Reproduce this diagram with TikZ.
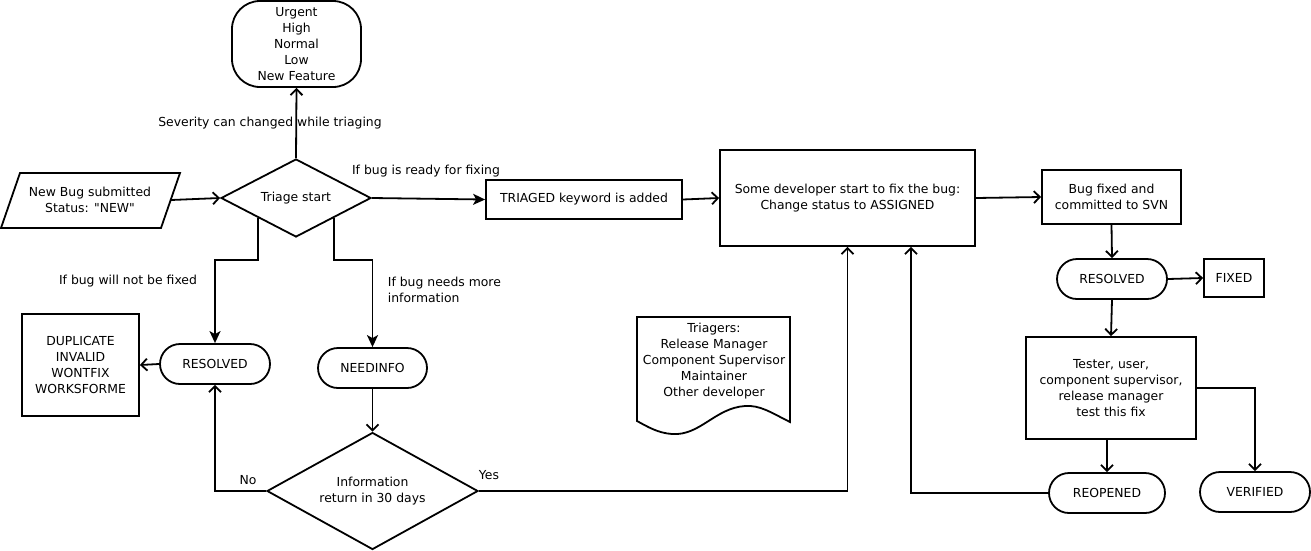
\documentclass[tikz,border=0pt]{standalone}
\usepackage{fontspec}
\setmainfont{DejaVu Sans}[Ligatures=TeXOff]
\usetikzlibrary{arrows.meta,shapes.geometric}
\begin{document}
\begin{tikzpicture}[x=1pt,y=-1pt,line width=1.8pt,
  every node/.style={font=\fontsize{12.4}{16}\selectfont},
  box/.style={draw,rectangle,inner sep=0pt,align=center},
  term/.style={draw,rectangle,rounded corners=20pt,inner sep=0pt,align=center,minimum width=110pt,minimum height=40pt},
  dia/.style={draw,diamond,aspect=2,inner sep=0pt,align=center},
  lbl/.style={inner sep=0pt,align=center},
  oarr/.style={-{Straight Barb[length=6pt,width=12pt]}},
  farr/.style={-{Stealth[length=12pt,width=11pt,inset=3pt]}}]
\useasboundingbox (0,0) rectangle (1311,550);

% nodes
\node[box,rounded corners=28pt,minimum width=129pt,minimum height=86pt] (sev) at (296.5,44) {Urgent\\High\\Normal\\Low\\New Feature};
\node[dia,minimum width=150pt,minimum height=78pt] (triage) at (296,198) {Triage start};
\node[lbl,minimum width=150pt,minimum height=55pt] (newbug) at (90,200) {New Bug submitted\\Status: "NEW"};
\draw (1,228) -- (20,173) -- (180,173) -- (161,228) -- cycle;
\coordinate (nbR) at (171,200);
\node[box,minimum width=196pt,minimum height=39pt] (triaged) at (584,199.5) {TRIAGED keyword is added};
\node[box,minimum width=255pt,minimum height=96pt] (assign) at (847.5,198) {Some developer start to fix the bug:\\Change status to ASSIGNED};
\node[box,minimum width=139pt,minimum height=54pt] (fixedsvn) at (1111.5,197) {Bug fixed and\\committed to SVN};
\node[term] (res2) at (1112,279) {RESOLVED};
\node[box,minimum width=60pt,minimum height=38pt] (fixed) at (1234,278) {FIXED};
\node[box,minimum width=170pt,minimum height=102pt] (tester) at (1111,388) {Tester, user,\\component supervisor,\\release manager\\test this fix};
\node[term,minimum width=116pt] (reopen) at (1107,493) {REOPENED};
\node[term,minimum width=110pt] (verified) at (1255,492) {VERIFIED};
\node[term] (res1) at (215,364) {RESOLVED};
\node[box,minimum width=117pt,minimum height=102pt] (dup) at (80.5,365) {DUPLICATE\\INVALID\\WONTFIX\\WORKSFORME};
\node[term,minimum width=109pt] (needinfo) at (372.5,368) {NEEDINFO};
\node[dia,minimum width=211pt,minimum height=117pt] (info) at (372.5,491) {Information\\return in 30 days};
% document shape
\draw (637,421) -- (637,317) -- (790,317) -- (790,422)
  .. controls (770,412) and (760,405) .. (745,406)
  .. controls (715,408) and (700,436) .. (672,434)
  .. controls (658,433) and (648,427) .. (637,421) -- cycle;
\node[lbl] (triagers) at (714,361) {Triagers:\\Release Manager\\Component Supervisor\\Maintainer\\Other developer};

% labels
\node[lbl] (lsev) at (270,123) {Severity can changed while triaging};
\node[lbl] (lready) at (426,171) {If bug is ready for fixing};
\node[lbl] (lnot) at (128,281) {If bug will not be fixed};
\node[lbl,align=left,anchor=west] (lmore) at (387,290) {If bug needs more\\information};
\node[lbl] (lno) at (248,480) {No};
\node[lbl] (lyes) at (489,475) {Yes};

% connectors
\draw[oarr] (triage.north) -- (sev.south);
\draw[oarr] (nbR) -- (triage.west);
\draw[farr] (triage.east) -- (triaged.west);
\draw[oarr] (triaged.east) -- (assign.west);
\draw[oarr] (assign.east) -- (fixedsvn.west);
\draw[oarr] (fixedsvn.south) -- (res2.north);
\draw[oarr] (res2.east) -- (fixed.west);
\draw[oarr] (res2.south) -- (tester.north);
\draw[oarr] (reopen.north |- tester.south) -- (reopen.north);
\draw[oarr] (tester.east) -| (verified.north);
\draw[oarr] (reopen.west) -| ([xshift=63.5pt]assign.south);
\draw[oarr] (info.east) -| (assign.south);
\draw[oarr] (info.west) -| (res1.south);
\draw[oarr] (res1.west) -- (dup.east);
\draw[oarr] (needinfo.south) -- (info.north);
\draw[farr] (triage.south west) -- ++(0,42) -| (res1.north);
\draw[farr] (triage.south east) -- ++(0,42) -| (needinfo.north);
\end{tikzpicture}
\end{document}
